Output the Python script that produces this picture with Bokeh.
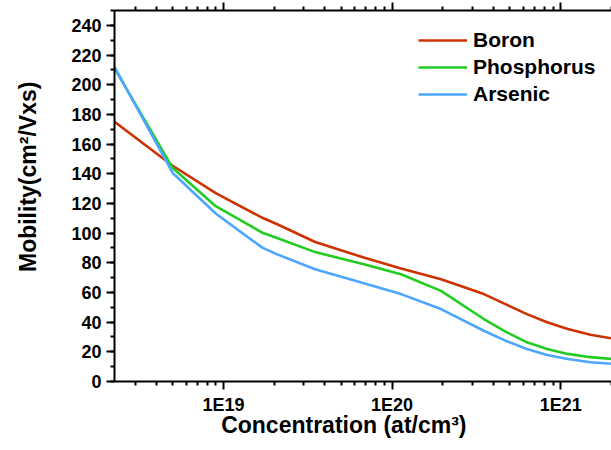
from bokeh.plotting import figure
from bokeh.models import (Legend, LegendItem, LogAxis, FixedTicker, SingleIntervalTicker,
                          CustomJSTickFormatter, Range1d)
from bokeh.embed import file_html
from bokeh.resources import INLINE

# ---- data ----
concentration = [2.26e18, 5e18, 9e18, 1.7e19, 2.1e19, 3.5e19, 6.8e19, 1.13e20, 1.95e20,
                 3.5e20, 4.7e20, 6.3e20, 8.3e20, 1.1e21, 1.5e21, 2.0e21]
boron = [175, 145.4, 127, 110.3, 105.8, 94, 83.5, 76.1, 68.9, 58.9, 52.1, 45.4, 39.9, 35.4, 31.5, 29.1]
phosphorus = [211, 143.9, 118.1, 100.3, 96.5, 87.2, 79, 72.3, 61.1, 42.1, 33.6, 26.4, 21.9, 18.6, 16.4, 15.2]
arsenic = [212, 140.5, 113.2, 90.2, 85.5, 75.6, 66.2, 58.9, 48.8, 34.2, 27.5, 21.9, 17.9, 15.2, 13.0, 11.9]

series_names = ["Boron", "Phosphorus", "Arsenic"]
series_colors = ["#CC3300", "#22CC22", "#4DA6FF"]

x_major_ticks = [1e19, 1e20, 1e21]
x_minor_ticks = [m * 10.0 ** e for e in (18, 19, 20, 21) for m in range(2, 10)]

x_title = "Concentration (at/cm³)"
y_title = "Mobility(cm²/Vxs)"

FONT = "Liberation Sans"
NBSP = "\u00a0"

p = figure(width=611, height=450, x_axis_type="log", output_backend="svg",
           toolbar_location=None,
           x_range=Range1d(2.26e18, 2.0e21), y_range=Range1d(0, 250),
           min_border_left=114, min_border_right=0, min_border_top=10, min_border_bottom=69)
p.outline_line_color = None
p.grid.visible = False

renderers = []
for ys, col in zip([boron, phosphorus, arsenic], series_colors):
    r = p.line(concentration, ys, line_color=col, line_width=2.6)
    renderers.append(r)

xt = FixedTicker(ticks=x_major_ticks, minor_ticks=x_minor_ticks)
fmt = CustomJSTickFormatter(code="return '1E' + Math.round(Math.log10(tick));")
blank = CustomJSTickFormatter(code="return '';")

xa = p.xaxis[0]
ya = p.yaxis[0]
xa.ticker = xt
xa.formatter = fmt
ya.ticker = SingleIntervalTicker(interval=20, num_minor_ticks=2)

top = LogAxis(ticker=xt, formatter=blank)
p.add_layout(top, "above")

for ax in [xa, ya, top]:
    ax.axis_line_width = 2
    ax.axis_line_color = "black"
    ax.major_tick_line_width = 2
    ax.minor_tick_line_width = 2
    ax.major_tick_line_color = "black"
    ax.minor_tick_line_color = "black"
    ax.major_tick_out = 8
    ax.major_tick_in = 0
    ax.minor_tick_out = 4
    ax.minor_tick_in = 0
    ax.major_label_text_font = FONT
    ax.major_label_text_font_style = "bold"
    ax.major_label_text_font_size = "18px"
    ax.major_label_text_color = "black"
    ax.major_label_standoff = 5
    ax.axis_label_text_font = FONT
    ax.axis_label_text_font_style = "bold"
    ax.axis_label_text_color = "black"

top.major_label_standoff = 0

# titles: non-breaking spaces shift them off-centre like the reference
xa.axis_label = x_title + NBSP * 6
xa.axis_label_text_font_size = "23px"
xa.axis_label_standoff = -6
ya.axis_label = NBSP * 6 + y_title
ya.axis_label_text_font_size = "23px"
ya.axis_label_standoff = 27

legend = Legend(items=[LegendItem(label=n, renderers=[r]) for n, r in zip(series_names, renderers)],
                location=(304, 275), border_line_color=None, background_fill_alpha=0,
                glyph_width=49, glyph_height=20, label_standoff=6, spacing=3,
                padding=0, margin=0, label_text_font=FONT, label_text_font_style="bold",
                label_text_font_size="21px", label_text_color="black")
p.add_layout(legend)

open("out.html", "w").write(file_html(p, INLINE))
